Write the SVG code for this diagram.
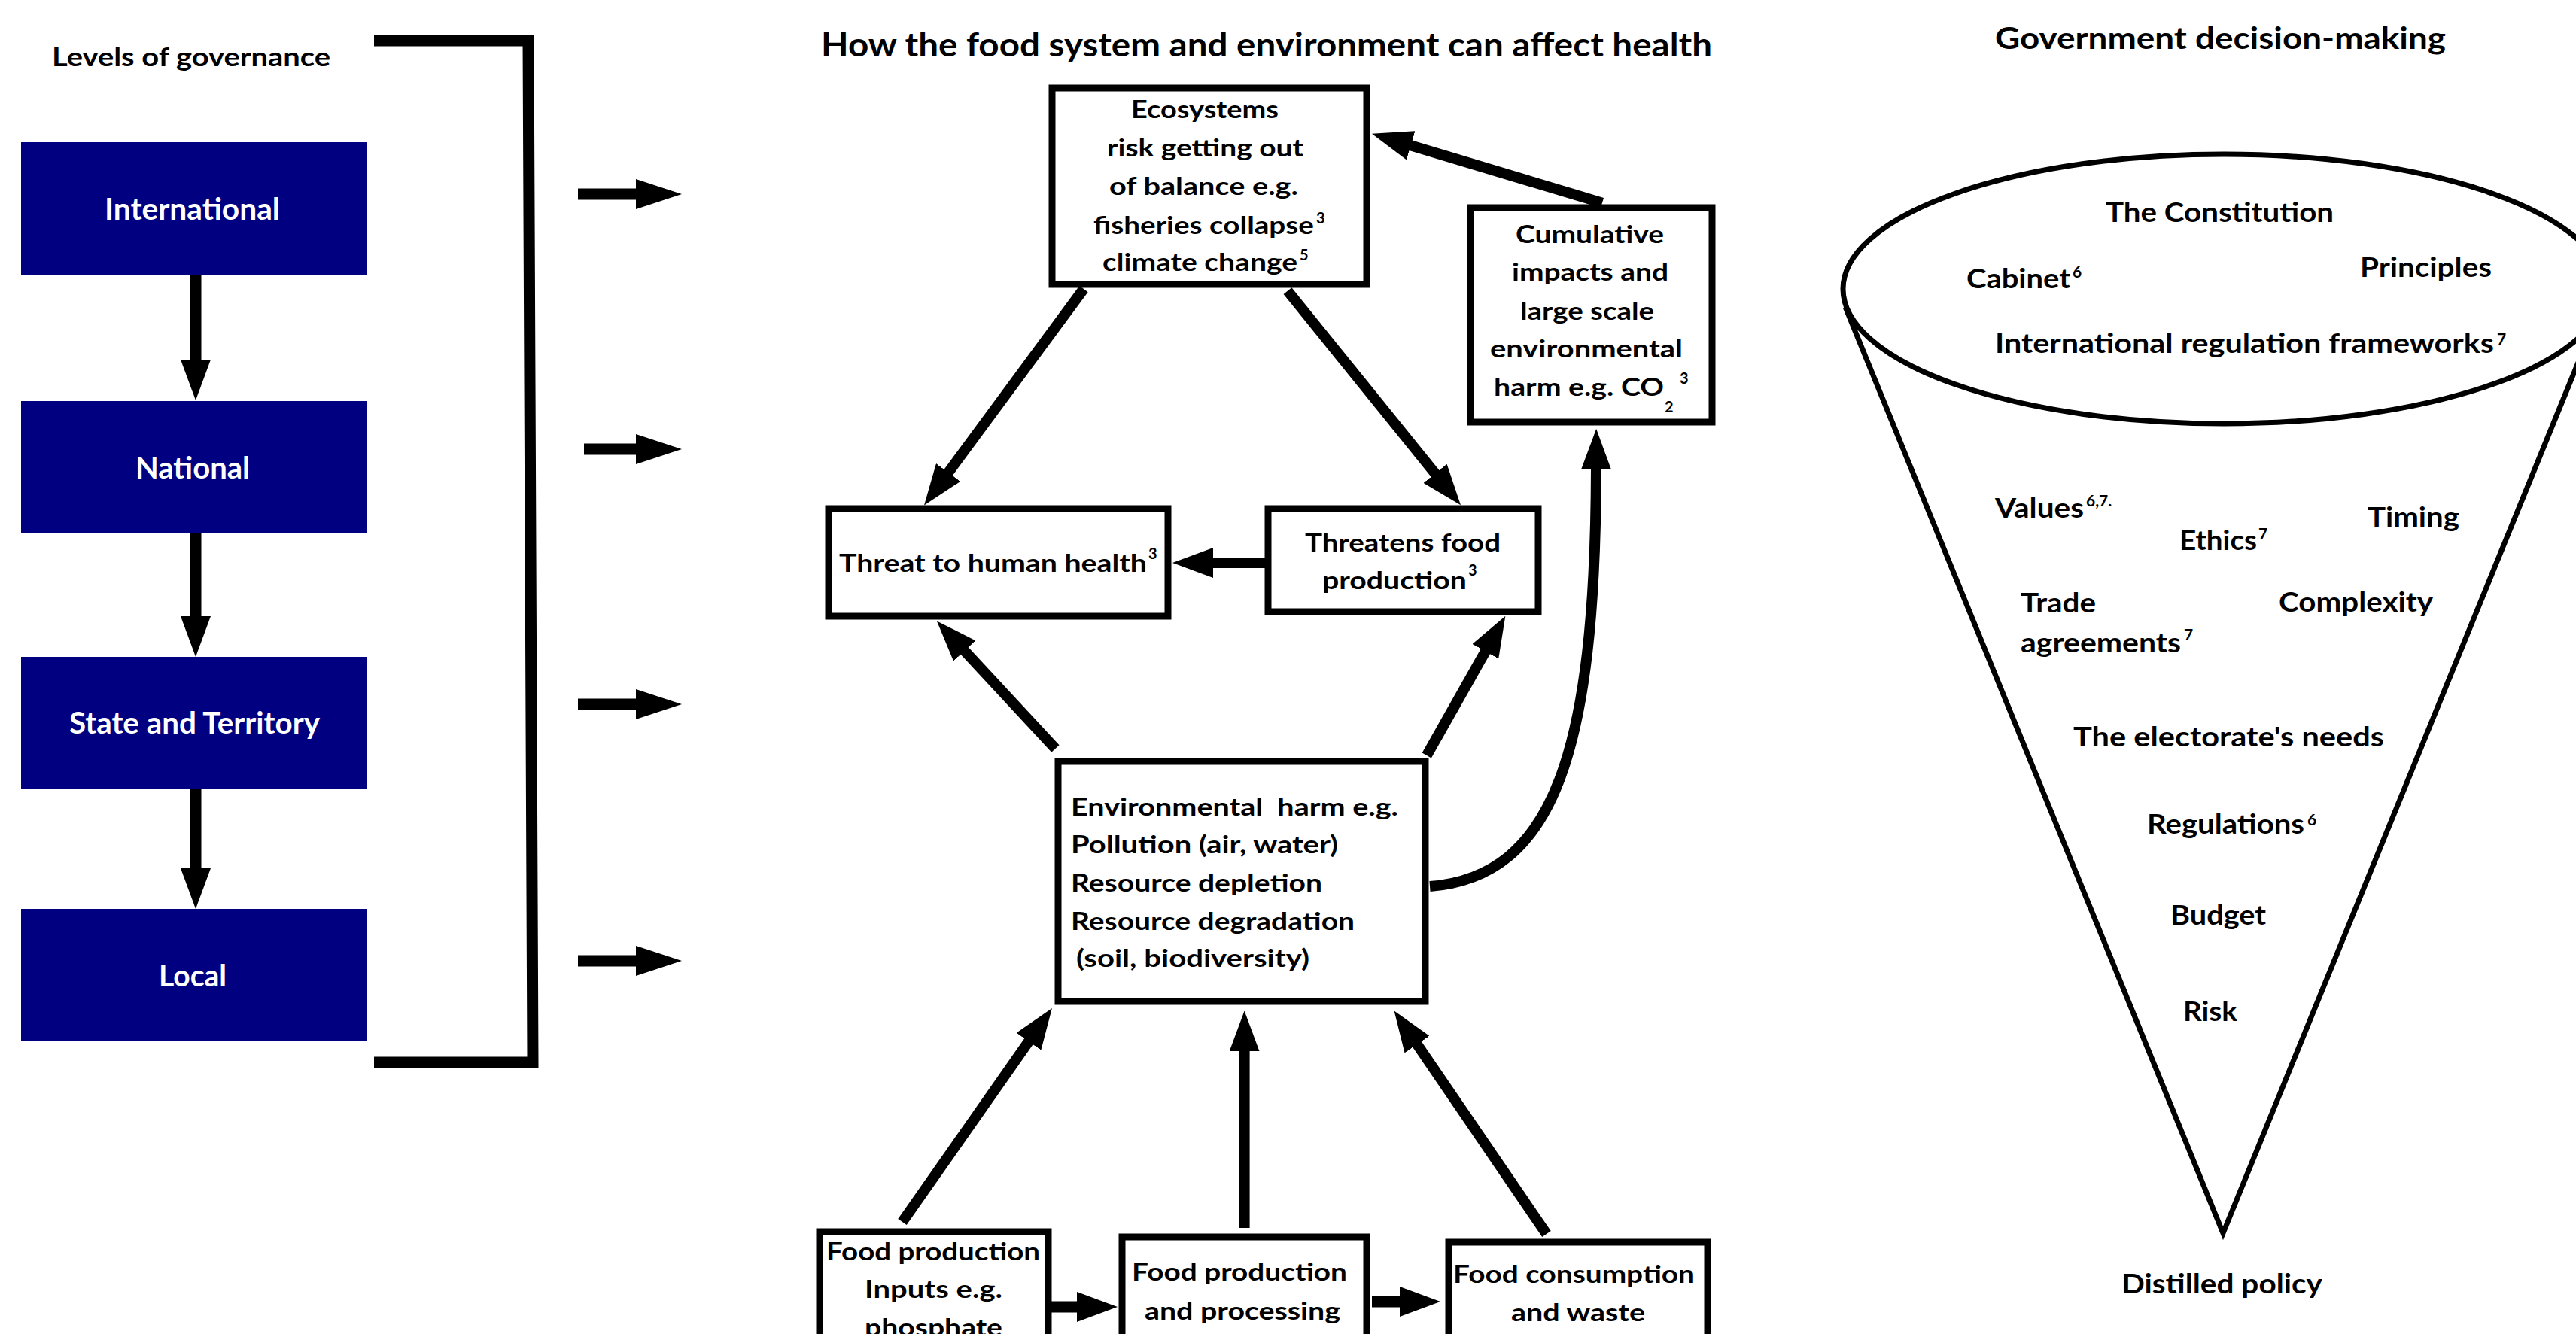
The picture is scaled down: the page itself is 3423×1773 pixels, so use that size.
<svg xmlns="http://www.w3.org/2000/svg" width="3423" height="1773" viewBox="0 0 3423 1773">
<defs>
<style>
.t{font-family:Lato,'Liberation Sans',Arial,sans-serif;font-weight:700;fill:#000}
.w{fill:#fff}
.gov{fill:#000080}
.box{fill:#fff;stroke:#000;stroke-width:9}
.c{fill:none;stroke:#000;stroke-width:14}
.c15{stroke-width:15}
.f{fill:none;stroke:#000;stroke-width:7}
</style>
<marker id="ah" markerUnits="userSpaceOnUse" markerWidth="54" markerHeight="40" viewBox="0 0 54 40" refX="2" refY="20" orient="auto"><path d="M0,0 L54,20 L0,40 z" fill="#000"/></marker>
<marker id="ahL" markerUnits="userSpaceOnUse" markerWidth="61" markerHeight="40" viewBox="0 0 61 40" refX="2" refY="20" orient="auto"><path d="M0,0 L61,20 L0,40 z" fill="#000"/></marker>
</defs>
<rect width="3423" height="1773" fill="#fff"/>

<!-- Left column: levels of governance -->
<g id="levels-title"><text class="t" font-size="35" x="69" y="88" textLength="370" lengthAdjust="spacingAndGlyphs">Levels of governance</text></g>
<g id="international"><rect class="gov" x="28" y="189" width="460" height="177"/><text class="t w" font-size="40" x="139" y="292" textLength="233" lengthAdjust="spacingAndGlyphs">International</text></g>
<g id="national"><rect class="gov" x="28" y="533" width="460" height="176"/><text class="t w" font-size="40" x="180" y="636" textLength="152" lengthAdjust="spacingAndGlyphs">National</text></g>
<g id="state"><rect class="gov" x="28" y="873" width="460" height="176"/><text class="t w" font-size="40" x="92" y="975" textLength="333" lengthAdjust="spacingAndGlyphs">State and Territory</text></g>
<g id="local"><rect class="gov" x="28" y="1208" width="460" height="176"/><text class="t w" font-size="40" x="211" y="1311" textLength="90" lengthAdjust="spacingAndGlyphs">Local</text></g>

<!-- Centre column -->
<g id="centre-title"><text class="t" font-size="43" x="1091" y="75" textLength="1184" lengthAdjust="spacingAndGlyphs">How the food system and environment can affect health</text></g>
<g id="ecosystems"><rect class="box" x="1398" y="117" width="418" height="261"/>
<text class="t" font-size="33" x="1503" y="157" textLength="196" lengthAdjust="spacingAndGlyphs">Ecosystems</text>
<text class="t" font-size="33" x="1471" y="208" textLength="261" lengthAdjust="spacingAndGlyphs">risk getting out</text>
<text class="t" font-size="33" x="1474" y="259" textLength="251" lengthAdjust="spacingAndGlyphs">of balance e.g.</text>
<text class="t" font-size="33"><tspan x="1453" y="311" textLength="293" lengthAdjust="spacingAndGlyphs">fisheries collapse</tspan><tspan x="1749" y="297" font-size="20">3</tspan></text>
<text class="t" font-size="33"><tspan x="1465" y="360" textLength="259" lengthAdjust="spacingAndGlyphs">climate change</tspan><tspan x="1727" y="346" font-size="20">5</tspan></text>
</g>
<g id="cumulative"><rect class="box" x="1954" y="276" width="321" height="285"/>
<text class="t" font-size="33" x="2014" y="323" textLength="197" lengthAdjust="spacingAndGlyphs">Cumulative</text>
<text class="t" font-size="33" x="2009" y="373" textLength="208" lengthAdjust="spacingAndGlyphs">impacts and</text>
<text class="t" font-size="33" x="2020" y="425" textLength="178" lengthAdjust="spacingAndGlyphs">large scale</text>
<text class="t" font-size="33" x="1980" y="475" textLength="256" lengthAdjust="spacingAndGlyphs">environmental</text>
<text class="t" font-size="33"><tspan x="1985" y="526" textLength="226" lengthAdjust="spacingAndGlyphs">harm e.g. CO</tspan><tspan x="2212" y="548" font-size="20">2</tspan><tspan x="2232" y="510" font-size="20">3</tspan></text>
</g>
<g id="threat-health"><rect class="box" x="1101" y="676" width="451" height="143"/>
<text class="t" font-size="33"><tspan x="1115" y="760" textLength="409" lengthAdjust="spacingAndGlyphs">Threat to human health</tspan><tspan x="1526" y="743" font-size="20">3</tspan></text>
</g>
<g id="threat-food"><rect class="box" x="1685" y="676" width="359" height="137"/>
<text class="t" font-size="33" x="1734" y="733" textLength="260" lengthAdjust="spacingAndGlyphs">Threatens food</text>
<text class="t" font-size="33"><tspan x="1757" y="783" textLength="192" lengthAdjust="spacingAndGlyphs">production</tspan><tspan x="1951" y="765" font-size="20">3</tspan></text>
</g>
<g id="env-harm"><rect class="box" x="1406" y="1012" width="488" height="319"/>
<text class="t" font-size="33" x="1423" y="1084" textLength="435" lengthAdjust="spacingAndGlyphs" xml:space="preserve">Environmental  harm e.g.</text>
<text class="t" font-size="33" x="1423" y="1134" textLength="355" lengthAdjust="spacingAndGlyphs">Pollution (air, water)</text>
<text class="t" font-size="33" x="1423" y="1185" textLength="334" lengthAdjust="spacingAndGlyphs">Resource depletion</text>
<text class="t" font-size="33" x="1423" y="1236" textLength="377" lengthAdjust="spacingAndGlyphs">Resource degradation</text>
<text class="t" font-size="33" x="1430" y="1285" textLength="310" lengthAdjust="spacingAndGlyphs">(soil, biodiversity)</text>
</g>
<g id="food-inputs"><rect class="box" x="1089" y="1637" width="304" height="200"/>
<text class="t" font-size="33" x="1098" y="1675" textLength="284" lengthAdjust="spacingAndGlyphs">Food production</text>
<text class="t" font-size="33" x="1149" y="1725" textLength="183" lengthAdjust="spacingAndGlyphs">Inputs e.g.</text>
<text class="t" font-size="33" x="1149" y="1776" textLength="183" lengthAdjust="spacingAndGlyphs">phosphate</text>
</g>
<g id="food-processing"><rect class="box" x="1491" y="1644" width="325" height="200"/>
<text class="t" font-size="33" x="1504" y="1702" textLength="286" lengthAdjust="spacingAndGlyphs">Food production</text>
<text class="t" font-size="33" x="1521" y="1754" textLength="260" lengthAdjust="spacingAndGlyphs">and processing</text>
</g>
<g id="food-consumption"><rect class="box" x="1925" y="1651" width="344" height="200"/>
<text class="t" font-size="33" x="1931" y="1705" textLength="321" lengthAdjust="spacingAndGlyphs">Food consumption</text>
<text class="t" font-size="33" x="2008" y="1756" textLength="178" lengthAdjust="spacingAndGlyphs">and waste</text>
</g>

<!-- Right column: government decision-making funnel -->
<g id="gov-title"><text class="t" font-size="41" x="2651" y="65" textLength="599" lengthAdjust="spacingAndGlyphs">Government decision-making</text></g>
<g id="funnel">
<path class="f" d="M2452,408 L2954,1639 L3456,408"/>
<ellipse class="f" cx="2955" cy="384" rx="506" ry="179"/>
</g>
<g id="constitution"><text class="t" font-size="36" x="2798" y="295" textLength="303" lengthAdjust="spacingAndGlyphs">The Constitution</text></g>
<g id="cabinet"><text class="t" font-size="36"><tspan x="2613" y="383" textLength="138" lengthAdjust="spacingAndGlyphs">Cabinet</tspan><tspan x="2754" y="369" font-size="21">6</tspan></text></g>
<g id="principles"><text class="t" font-size="36" x="3136" y="368" textLength="175" lengthAdjust="spacingAndGlyphs">Principles</text></g>
<g id="intl-frameworks"><text class="t" font-size="36"><tspan x="2651" y="469" textLength="663" lengthAdjust="spacingAndGlyphs">International regulation frameworks</tspan><tspan x="3318" y="458" font-size="21">7</tspan></text></g>
<g id="values"><text class="t" font-size="36"><tspan x="2651" y="688" textLength="118" lengthAdjust="spacingAndGlyphs">Values</tspan><tspan x="2772" y="673" font-size="21">6,7.</tspan></text></g>
<g id="ethics"><text class="t" font-size="36"><tspan x="2896" y="731" textLength="103" lengthAdjust="spacingAndGlyphs">Ethics</tspan><tspan x="3001" y="717" font-size="21">7</tspan></text></g>
<g id="timing"><text class="t" font-size="36" x="3146" y="700" textLength="122" lengthAdjust="spacingAndGlyphs">Timing</text></g>
<g id="trade"><text class="t" font-size="36" x="2685" y="814" textLength="100" lengthAdjust="spacingAndGlyphs">Trade</text>
<text class="t" font-size="36"><tspan x="2685" y="867" textLength="213" lengthAdjust="spacingAndGlyphs">agreements</tspan><tspan x="2902" y="851" font-size="21">7</tspan></text></g>
<g id="complexity"><text class="t" font-size="36" x="3028" y="813" textLength="205" lengthAdjust="spacingAndGlyphs">Complexity</text></g>
<g id="electorate"><text class="t" font-size="36" x="2755" y="992" textLength="413" lengthAdjust="spacingAndGlyphs">The electorate's needs</text></g>
<g id="regulations"><text class="t" font-size="36"><tspan x="2853" y="1108" textLength="209" lengthAdjust="spacingAndGlyphs">Regulations</tspan><tspan x="3066" y="1097" font-size="21">6</tspan></text></g>
<g id="budget"><text class="t" font-size="36" x="2884" y="1229" textLength="127" lengthAdjust="spacingAndGlyphs">Budget</text></g>
<g id="risk"><text class="t" font-size="36" x="2901" y="1357" textLength="72" lengthAdjust="spacingAndGlyphs">Risk</text></g>
<g id="distilled"><text class="t" font-size="36" x="2819" y="1719" textLength="267" lengthAdjust="spacingAndGlyphs">Distilled policy</text></g>

<!-- Connectors -->
<g id="connectors">
<path class="c c15" d="M497,54 L702,54 L708,1412 L497,1412"/>
<line class="c c15" x1="260" y1="366" x2="260" y2="480" marker-end="url(#ah)"/>
<line class="c c15" x1="260" y1="709" x2="260" y2="821" marker-end="url(#ah)"/>
<line class="c c15" x1="260" y1="1049" x2="260" y2="1156" marker-end="url(#ah)"/>
<line class="c c15" x1="768" y1="258" x2="847" y2="258" marker-end="url(#ahL)"/>
<line class="c c15" x1="776" y1="597" x2="847" y2="597" marker-end="url(#ahL)"/>
<line class="c c15" x1="768" y1="936" x2="847" y2="936" marker-end="url(#ahL)"/>
<line class="c c15" x1="768" y1="1277" x2="847" y2="1277" marker-end="url(#ahL)"/>
<path class="c" d="M1440,384 L1258.9,629.6" marker-end="url(#ah)"/>
<path class="c" d="M1711,386.6 L1908.3,630.9" marker-end="url(#ah)"/>
<path class="c" d="M2129,269.6 L1872.8,192.7" marker-end="url(#ah)"/>
<path class="c" d="M1682,748 L1610,748" marker-end="url(#ah)"/>
<path class="c" d="M1402.4,995 L1280.3,863.5" marker-end="url(#ah)"/>
<path class="c" d="M1895.8,1004 L1974.8,864" marker-end="url(#ah)"/>
<path class="c" d="M1900,1178 C2065,1165 2120,1000 2121,622" marker-end="url(#ah)"/>
<path class="c" d="M1199,1624 L1368.1,1382.6" marker-end="url(#ah)"/>
<path class="c" d="M1653.6,1632 L1653.6,1395.4" marker-end="url(#ah)"/>
<path class="c" d="M2055,1640 L1881.9,1386.4" marker-end="url(#ah)"/>
<path class="c c15" d="M1397,1737 L1433,1737" marker-end="url(#ah)"/>
<path class="c c15" d="M1823,1730 L1862,1730" marker-end="url(#ah)"/>
</g>
</svg>
